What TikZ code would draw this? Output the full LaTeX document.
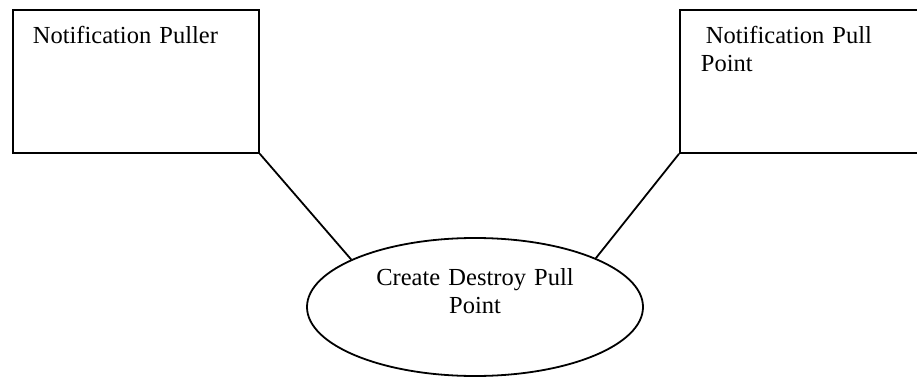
\documentclass[tikz,border=0pt]{standalone}
\usepackage{fontspec}
\setmainfont{Liberation Serif}
\usepackage{tikz}
\usetikzlibrary{positioning,shapes.geometric}

\begin{document}
\begin{tikzpicture}[x=1pt, y=-1pt, line width=1.8pt,
  font=\fontsize{24.5}{28}\selectfont,
  actor/.style={draw, rectangle, anchor=north west, inner xsep=21pt, inner ysep=0pt, align=left, text height=34pt, text depth=109pt},
  usecase/.style={draw, ellipse, inner sep=0pt, minimum width=336pt, minimum height=138pt, align=center, text width=220pt, text height=17pt, text depth=61pt}]
\useasboundingbox (0,0) rectangle (917,377);
\clip (0,0) rectangle (917,377);
\node[actor, inner xsep=20pt, text width=206pt] (puller) at (12,9) {Notification Puller};
\node[actor, text width=220pt] (pullpoint) at (679,9) {\hspace*{5pt}Notification Pull\\ Point};
\node[usecase] (create) at (475,307) {Create Destroy Pull\\ Point};
\draw (puller.south east) -- (create.159);
\draw (pullpoint.south west) -- (create.22);
\end{tikzpicture}
\end{document}
